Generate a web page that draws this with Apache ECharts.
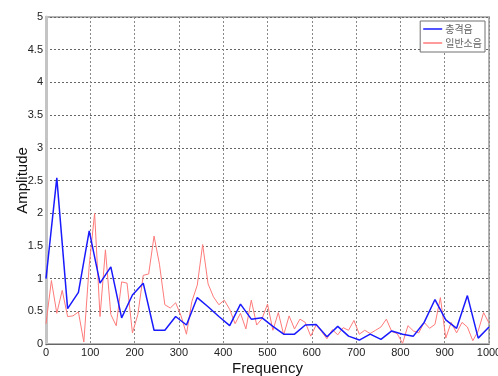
<!DOCTYPE html>
<html>
<head>
<meta charset="utf-8">
<script src="https://cdn.jsdelivr.net/npm/echarts@6/dist/echarts.min.js"></script>
<style>
  html, body { margin: 0; padding: 0; background: #fff; }
  #chart { width: 498px; height: 376px; }
</style>
</head>
<body>
<div id="chart"></div>
<script>
// Spectrum amplitudes, 0–1000 Hz
const impactName = '충격음';
const noiseName = '일반소음';

// impact sound: 42 bins, 0..1000 Hz
const impactAmp = [
  1.00, 2.54, 0.54, 0.79, 1.73, 0.93, 1.18, 0.40, 0.75, 0.93,
  0.21, 0.21, 0.42, 0.29, 0.71, 0.57, 0.42, 0.28, 0.61, 0.38,
  0.40, 0.27, 0.15, 0.15, 0.29, 0.30, 0.11, 0.27, 0.12, 0.06,
  0.15, 0.07, 0.20, 0.15, 0.12, 0.33, 0.68, 0.37, 0.24, 0.74,
  0.09, 0.26
];

// ordinary noise: 83 bins, 0..1000 Hz
const noiseAmp = [
  0.31, 0.97, 0.47, 0.82, 0.42, 0.43, 0.49, 0.03, 1.20, 2.00,
  0.42, 1.44, 0.45, 0.28, 0.95, 0.93, 0.17, 0.45, 1.05, 1.07,
  1.65, 1.22, 0.60, 0.55, 0.63, 0.43, 0.15, 0.65, 0.90, 1.52,
  0.92, 0.72, 0.60, 0.67, 0.53, 0.31, 0.47, 0.23, 0.67, 0.29,
  0.39, 0.61, 0.21, 0.48, 0.14, 0.43, 0.23, 0.38, 0.33, 0.12,
  0.29, 0.19, 0.08, 0.22, 0.14, 0.25, 0.21, 0.36, 0.15, 0.21,
  0.16, 0.21, 0.26, 0.38, 0.19, 0.16, 0.01, 0.28, 0.20, 0.17,
  0.33, 0.24, 0.30, 0.71, 0.09, 0.33, 0.17, 0.33, 0.26, 0.05,
  0.20, 0.48, 0.32
];

const freqMax = 1000;
const xTicks = [0, 100, 200, 300, 400, 500, 600, 700, 800, 900, 1000];
const yTicks = [0, 0.5, 1, 1.5, 2, 2.5, 3, 3.5, 4, 4.5, 5];

// pair each amplitude with its bin frequency
function toPairs(amps) {
  const step = freqMax / (amps.length - 1);
  return amps.map((v, i) => [i * step, v]);
}

const font = 'Arial, "Liberation Sans", sans-serif';
const chart = echarts.init(document.getElementById('chart'), null, { renderer: 'canvas' });

chart.setOption({
  animation: false,
  backgroundColor: '#fff',
  grid: {
    left: 46, right: 9, top: 17, bottom: 32,
    outerBoundsMode: 'none', containLabel: false,
    show: true, borderColor: '#b4b4b4', borderWidth: 2, backgroundColor: '#fff'
  },
  legend: {
    orient: 'vertical',
    right: 13, top: 21,
    backgroundColor: '#fff',
    borderColor: '#707070', borderWidth: 1, borderRadius: 0,
    padding: [2, 3, 3, 3],
    itemGap: 2,
    icon: 'rect',
    itemWidth: 19, itemHeight: 1.5,
    textStyle: { fontFamily: '"Noto Sans CJK KR", sans-serif', fontSize: 10, color: '#666', lineHeight: 12, padding: [0, 0, 0, -2] },
    data: [impactName, noiseName]
  },
  xAxis: {
    type: 'value',
    min: xTicks[0], max: xTicks[xTicks.length - 1], interval: 100,
    name: 'Frequency', nameLocation: 'middle', nameGap: 17, nameMoveOverlap: false,
    nameTextStyle: { fontFamily: font, fontSize: 15, color: '#111' },
    axisLine: { show: true, lineStyle: { color: '#666', width: 1 } },
    axisTick: { show: false },
    axisLabel: { fontFamily: font, fontSize: 11, color: '#222', margin: 3, formatter: v => String(v) },
    splitLine: { show: true, lineStyle: { color: '#888', type: [2, 2], width: 1 } }
  },
  yAxis: {
    type: 'value',
    min: yTicks[0], max: yTicks[yTicks.length - 1], interval: 0.5,
    name: 'Amplitude', nameLocation: 'middle', nameGap: 16, nameMoveOverlap: false,
    nameTextStyle: { fontFamily: font, fontSize: 15, color: '#111' },
    axisLine: { show: true, lineStyle: { color: '#c4c4c4', width: 3 } },
    axisTick: { show: false },
    axisLabel: { fontFamily: font, fontSize: 11, color: '#222', margin: 3, formatter: v => String(v) },
    splitLine: { show: true, lineStyle: { color: '#666', type: [2, 2], width: 1 } }
  },
  series: [
    {
      name: noiseName, type: 'line', symbol: 'none', z: 2,
      data: toPairs(noiseAmp),
      lineStyle: { color: '#ff7a7a', width: 1 },
      itemStyle: { color: '#ff7a7a' }
    },
    {
      name: impactName, type: 'line', symbol: 'none', z: 3,
      data: toPairs(impactAmp),
      lineStyle: { color: '#1a1aff', width: 1.5 },
      itemStyle: { color: '#1a1aff' }
    }
  ]
});
</script>
</body>
</html>
